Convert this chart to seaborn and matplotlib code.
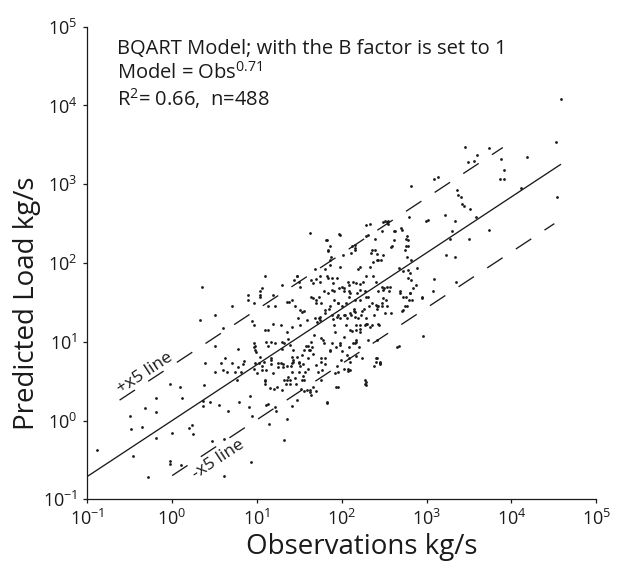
import numpy as np
import pandas as pd
import matplotlib
matplotlib.use("Agg")
import matplotlib.pyplot as plt
import seaborn as sns

# ---- data (log10 of kg/s) ----
log_obs_a = [-0.89,-0.50,-0.49,-0.46,-0.32,-0.35,-0.28,-0.19,-0.19,-0.19,-0.02,0.00,-0.02,-0.02,0.09,0.12,0.11,0.20,0.23,0.24,
             0.33,0.35,0.36,0.36,0.37,0.39,0.45,0.47,0.50,0.50,0.50,0.55,0.57,0.60,0.60,0.61,0.61,0.62,0.65,0.66,
             0.70,0.71,0.74,0.76,0.78,0.78,0.79,0.81,0.84,0.85,0.90,0.90,0.91,0.92,0.93,0.94,0.94,0.96,0.97,0.97,
             0.99,1.02,1.03,1.04,1.06,1.08,1.09,1.10,1.10,1.11,1.13,1.13,1.14,1.16,1.16,1.17,1.17,1.20,1.21,1.21,
             1.22,1.24,1.25,1.28,1.28,1.29,1.31,1.32,1.32,1.34,1.35,1.35,1.36,1.37,1.38,1.39,1.40,1.41,1.41,1.41,
             1.42,1.43,1.44,1.45,1.46,1.47,1.47,1.48,1.49,1.50,1.51,1.52,1.53,1.53,1.54,1.54,1.55,1.56,1.57,1.58,
             1.59,1.60,1.60,1.61,1.62,1.63,1.64,1.64,1.65,1.66,1.66,1.67,1.68,1.69,1.70,1.70,1.71,1.72,1.73,1.73,
             1.74,1.75,1.75,1.76,1.77,1.78,1.79,1.79,1.80,1.80,1.81,1.82,1.83,1.84,1.84,1.85,1.86,1.87,1.88,1.88,
             1.89,1.89,1.90,1.91,1.91,1.91,1.92,1.93,1.93,1.94,1.95,1.95,1.96,1.97,1.97,1.98,1.99,2.00,2.00,2.01,
             2.02,2.02,2.03,2.03,2.04,2.05,2.05,2.06,2.07,2.07,2.08,2.09,2.09,2.09,2.10,2.11,2.11,2.12,2.13,2.14,
             2.14,2.15,2.15,2.16,2.16,2.17,2.17,2.18,2.19,2.19,2.20,2.21,2.21,2.21,2.22,2.23,2.24,2.24,2.25,2.26,
             2.27,2.27,2.28,2.29,2.29,2.30,2.31,2.31,2.32,2.33,2.33,2.34,2.35,2.36,2.37,2.38,2.38,2.39,2.40,2.40,
             2.40,2.41,2.42,2.43,2.43,2.44,2.45,2.46,2.47,2.47,2.48,2.49,2.50,2.51,2.52,2.54,2.55,2.56,2.58,2.58,
             2.61,2.62,2.65,2.67,2.68,2.70,2.71,2.72,2.72,2.74,2.75,2.76,2.77,2.77,2.78,2.78,2.79,2.79,2.80,2.81,
             2.82,2.82,2.83,2.84,2.89,2.95,2.96,2.99,3.02,3.08,3.09,3.09,3.13,3.22,3.23,3.28,3.30,3.33,3.33,3.35,
             3.36,3.37,3.40,3.42,3.44,3.49,3.50,3.51,3.56,3.58,3.59,3.45,3.73,3.73,3.86,3.88,3.91,3.91,4.11,4.18,
             4.53,4.54,4.58,1.32,2.17,2.07,2.28,2.28,2.40,2.45,2.67]
log_pred_a = [-0.37,0.06,-0.11,-0.45,0.16,-0.08,-0.72,0.28,0.11,-0.22,0.46,-0.16,-0.51,-0.55,0.43,0.29,-0.56,-0.10,-0.06,-0.17,
              1.28,1.69,0.25,0.19,0.45,0.73,0.23,-0.26,1.34,0.95,0.62,0.20,0.73,0.64,1.17,-0.24,-0.70,0.79,0.62,0.12,
              1.46,0.73,0.61,0.52,0.91,0.68,0.24,0.62,0.72,0.75,1.59,1.53,0.17,0.31,-0.53,0.06,1.26,0.98,0.93,0.65,
              0.87,0.73,1.59,1.64,0.69,0.74,0.50,1.83,0.46,0.64,1.15,0.21,-0.04,0.72,1.00,0.77,0.79,0.40,1.45,0.17,
              0.12,0.42,0.68,0.73,1.21,0.91,0.72,0.98,0.52,0.46,0.02,0.69,0.55,1.03,1.51,0.52,0.69,0.61,0.81,0.19,
              0.74,0.77,1.78,0.54,0.47,1.84,0.26,1.30,0.74,1.76,0.69,0.40,0.83,0.52,0.56,0.72,0.37,1.39,0.61,0.94,
              0.39,0.79,0.65,0.89,2.38,0.36,1.00,0.33,0.93,0.42,1.55,1.09,1.92,1.80,0.70,1.49,1.25,0.62,1.30,1.57,
              1.28,1.05,0.79,0.74,0.64,1.02,0.98,1.64,0.72,1.37,2.29,0.24,1.83,2.15,1.62,1.41,2.22,2.08,1.81,1.34,
              0.98,1.66,1.29,1.21,1.64,1.53,1.12,0.93,0.42,0.69,1.34,0.61,1.49,2.37,1.68,1.30,0.77,0.88,1.45,2.10,
              1.06,1.68,1.64,0.66,1.34,1.21,1.49,1.30,1.76,0.66,0.93,1.64,1.57,0.79,0.74,2.13,1.34,1.14,1.76,1.39,
              1.41,2.17,1.53,1.32,0.98,1.21,1.00,1.62,1.93,1.30,0.93,1.73,1.53,1.16,1.21,1.34,0.79,1.39,1.76,1.41,
              1.64,1.21,2.34,1.83,1.30,1.23,1.02,1.57,1.45,2.49,1.19,2.13,1.49,2.17,2.01,1.34,0.69,2.31,1.47,0.74,
              1.76,1.41,2.04,1.64,1.45,1.21,0.74,2.04,1.45,2.40,1.66,1.55,1.68,2.53,1.53,2.49,2.53,1.64,2.20,1.37,
              2.40,2.29,0.93,1.94,1.64,2.44,1.39,1.90,1.57,1.45,2.17,2.31,2.34,2.08,1.81,2.22,2.58,1.53,1.62,2.04,
              2.98,1.78,1.53,1.68,1.94,1.57,1.07,2.53,2.55,1.64,1.80,3.07,3.09,2.61,2.10,2.31,2.40,2.53,2.08,1.76,
              2.93,2.86,2.84,2.75,2.73,3.28,2.31,2.69,3.30,2.58,3.37,3.47,3.46,2.42,3.07,3.32,3.07,3.18,2.95,3.34,
              3.53,2.84,4.08,-0.25,0.82,0.63,0.49,0.45,0.79,0.72,0.95]

log_obs_b = [0.98,0.98,1.11,1.13,1.09,1.15,1.11,1.55,1.62,1.70,1.82,1.96,2.27,2.27,2.10,1.92,1.76,1.80,1.86,1.86,
             1.98,1.98,2.06,2.13,2.17,2.41,2.45,2.10,2.17,2.21,2.29,2.35,2.43,1.96,1.94,2.02,2.10,2.15,1.80,1.74,
             1.68,1.59,1.51,1.41,1.35,1.29,1.21,1.39,1.43,1.47,1.55,1.60,1.62,1.66,1.41,1.31,1.25,1.19,1.04,1.06,
             1.00,0.98,1.35,1.39,1.29,1.49,1.49,1.35,1.41,1.45,1.51,1.53,1.64,1.70,1.76,1.86,1.66,1.74,1.84,1.90,
             1.94,2.00,2.08,2.10,2.17,2.21,2.29,2.37,2.47,2.53,2.57,2.41,2.47,2.53,2.51,2.72,2.77,2.69,2.76,2.80,
             2.80,2.78,2.88,2.76,2.78,2.71,2.63,2.53,2.49,2.29,2.31,2.39,2.41,2.43,2.49,2.59,2.33,2.21,2.12,2.15,
             2.15,1.98,1.82,1.84,1.86,1.86,1.98,1.80,1.74,1.64,1.47,1.51,1.29,1.19,1.06,1.04,0.96,1.13,1.19,1.09,
             0.96,2.94,2.41]
log_pred_b = [0.94,0.90,1.00,0.94,0.52,0.41,0.20,0.52,0.39,0.37,0.22,0.43,0.52,0.47,0.64,0.60,0.52,0.79,0.90,0.88,
              0.98,0.96,0.83,0.98,1.02,0.79,0.73,1.15,1.15,1.13,1.23,1.21,1.23,1.49,1.32,1.34,1.36,1.38,1.40,1.32,
              1.30,1.28,1.21,1.19,1.13,1.00,0.98,0.96,0.90,0.81,0.90,0.94,0.90,0.85,0.73,0.68,0.73,0.60,0.81,0.64,
              0.60,0.73,0.52,0.47,0.39,0.62,0.73,1.51,1.53,1.45,1.40,1.38,1.57,1.53,1.49,1.45,1.74,1.76,1.81,1.74,
              1.81,1.70,1.72,1.62,1.74,1.66,1.57,1.83,1.70,1.70,1.70,1.45,1.49,1.45,1.36,1.40,1.45,1.62,1.57,1.62,
              1.87,1.91,1.72,2.21,2.29,2.42,2.40,2.52,2.52,2.48,2.36,2.16,2.12,2.04,2.10,2.21,1.95,1.95,2.21,2.19,
              2.23,2.36,2.29,2.16,2.04,1.98,1.95,1.93,1.83,1.78,1.83,1.70,1.72,1.59,1.68,1.57,1.49,1.45,1.23,1.15,
              1.21,1.55,1.02]

# tick values (kg/s)
tick_values = [1e-1, 1e0, 1e1, 1e2, 1e3, 1e4, 1e5]
tick_labels = ["10$^{-1}$", "10$^{0}$", "10$^{1}$", "10$^{2}$", "10$^{3}$", "10$^{4}$", "10$^{5}$"]

# model line and the x5 envelope extents (kg/s)
model_exp = 0.71
model_x = [0.1, 3.8e4]
upper_x = [0.24, 7.9e3]
lower_x = [1.0, 3.2e4]
factor = 5.0

obs = 10 ** np.array(log_obs_a + log_obs_b)
pred = 10 ** np.array(log_pred_a + log_pred_b)
df = pd.DataFrame({"obs": obs, "pred": pred})

mx = np.array(model_x); ux = np.array(upper_x); lx = np.array(lower_x)
lines = {
    "model": pd.DataFrame({"x": mx, "y": mx ** model_exp}),
    "upper": pd.DataFrame({"x": ux, "y": factor * ux ** model_exp}),
    "lower": pd.DataFrame({"x": lx, "y": lx ** model_exp / factor}),
}

sns.set_theme(style="ticks")
plt.rcParams["font.family"] = ["Open Sans", "DejaVu Sans"]
plt.rcParams["mathtext.fontset"] = "custom"
plt.rcParams["mathtext.rm"] = "Open Sans"
plt.rcParams["mathtext.it"] = "Open Sans"
plt.rcParams["mathtext.default"] = "regular"
plt.rcParams["axes.unicode_minus"] = False

ink = "#1a1a1a"
fig = plt.figure(figsize=(6.17, 5.67), dpi=100)
ax = fig.add_axes([0.1415, 0.1194, 0.825, 0.8335])

sns.scatterplot(data=df, x="obs", y="pred", ax=ax, s=4, color=ink, linewidth=0, legend=False)
sns.lineplot(data=lines["model"], x="x", y="y", ax=ax, color=ink, linewidth=0.95)
sns.lineplot(data=lines["upper"], x="x", y="y", ax=ax, color=ink, linewidth=0.95)
sns.lineplot(data=lines["lower"], x="x", y="y", ax=ax, color=ink, linewidth=0.95)
ax.lines[1].set_dashes([14, 12])
ax.lines[2].set_dashes([14, 12])

ax.set_xscale("log")
ax.set_yscale("log")
ax.set_xlim(1e-1, 1e5)
ax.set_ylim(1e-1, 1e5)
ax.xaxis.set_major_locator(matplotlib.ticker.FixedLocator(tick_values))
ax.yaxis.set_major_locator(matplotlib.ticker.FixedLocator(tick_values))
ax.xaxis.set_major_formatter(matplotlib.ticker.FixedFormatter(tick_labels))
ax.yaxis.set_major_formatter(matplotlib.ticker.FixedFormatter(tick_labels))
ax.xaxis.set_minor_locator(matplotlib.ticker.NullLocator())
ax.yaxis.set_minor_locator(matplotlib.ticker.NullLocator())
sns.despine(ax=ax)
for s in ["left", "bottom"]:
    ax.spines[s].set_linewidth(0.9)
    ax.spines[s].set_color(ink)
ax.tick_params(axis="both", direction="out", length=3, width=0.9, color=ink,
               labelsize=13, labelcolor=ink, pad=4)

ax.set_xlabel("Observations kg/s", fontsize=20, color=ink)
ax.set_ylabel("Predicted Load kg/s", fontsize=20, color=ink)
ax.xaxis.set_label_coords(0.54, -0.072)
ax.yaxis.set_label_coords(-0.09, 0.415)

tx = 0.058
ax.text(tx, 0.942, "BQART Model; with the B factor is set to 1", transform=ax.transAxes,
        fontsize=14.5, color=ink, va="baseline", ha="left")
ax.text(tx, 0.889, "Model = Obs$^{0.71}$", transform=ax.transAxes,
        fontsize=14.5, color=ink, va="baseline", ha="left")
ax.text(tx, 0.832, "R$^{2}$= 0.66,  n=488", transform=ax.transAxes,
        fontsize=14.5, color=ink, va="baseline", ha="left")

ax.text(10 ** -0.32, 10 ** 0.60, "+x5 line", fontsize=12.5, color=ink, rotation=33.4,
        rotation_mode="anchor", ha="center", va="center")
ax.text(10 ** 0.55, 10 ** -0.50, "-x5 line", fontsize=12.5, color=ink, rotation=33.4,
        rotation_mode="anchor", ha="center", va="center")

fig.savefig("out.png", dpi=100)
